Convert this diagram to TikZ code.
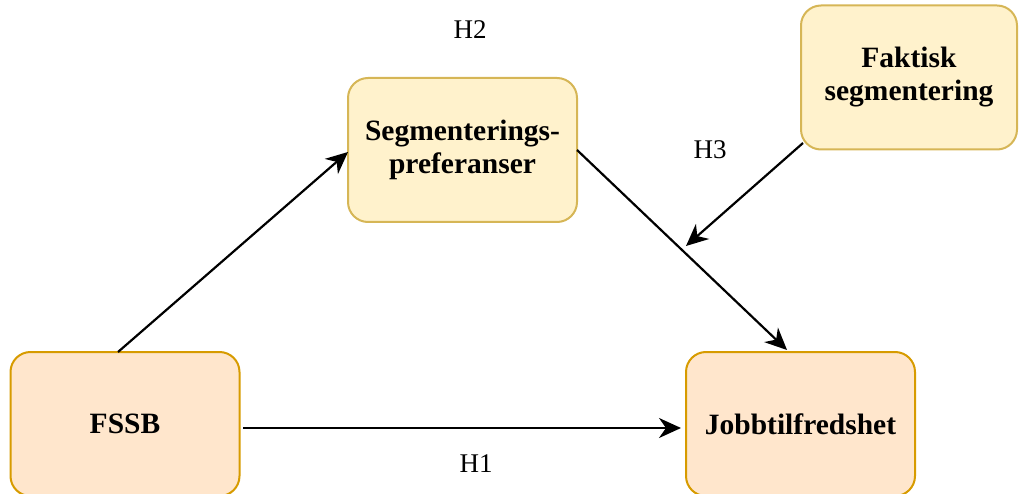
\documentclass[tikz,border=0pt]{standalone}
\usepackage{fontspec}
\setmainfont{Liberation Serif}
\usetikzlibrary{arrows.meta}
\definecolor{yfill}{HTML}{FFF2CC}
\definecolor{ydraw}{HTML}{D6B656}
\definecolor{ofill}{HTML}{FFE6CC}
\definecolor{odraw}{HTML}{D79B00}
\tikzset{
  box/.style={rounded corners=20pt, line width=2pt, minimum width=229pt, minimum height=144pt, align=center, inner sep=0pt,
    font=\fontsize{29.5}{33}\selectfont\bfseries},
  ybox/.style={box, fill=yfill, draw=ydraw},
  obox/.style={box, fill=ofill, draw=odraw},
  conn/.style={line width=2.2pt, -{Stealth[length=22pt,width=20pt,inset=7pt]}},
  hlab/.style={font=\fontsize{27}{30}\selectfont}
}
\begin{document}
\begin{tikzpicture}[x=1pt,y=-1pt]
\useasboundingbox (0,0) rectangle (1019,494);
\node[ybox] (seg) at (462.5,150) {Segmenterings-\\preferanser};
\node[ybox, minimum width=216pt] (fak) at (909,77.5) {Faktisk\\segmentering};
\node[obox] (fssb) at (125,424) {FSSB};
\node[obox] (job) at (800.5,424) {Jobbtilfredshet};
\coordinate (fssbtop) at (118,352);
\coordinate (segleft) at (348,152);
\coordinate (segright) at (577,150);
\coordinate (jobtop) at (787,350);
\coordinate (fakout) at (803,143);
\coordinate (h3end) at (686,246);
\coordinate (fssbright) at (243,428);
\coordinate (jobleft) at (681,428);
\draw[conn] (fssbtop) -- (segleft);
\draw[conn] (segright) -- (jobtop);
\draw[conn] (fakout) -- (h3end);
\draw[conn] (fssbright) -- (jobleft);
\node[hlab] (h2) at (470,30) {H2};
\node[hlab] (h3) at (710,150) {H3};
\node[hlab] (h1) at (476,464) {H1};
\end{tikzpicture}
\end{document}
